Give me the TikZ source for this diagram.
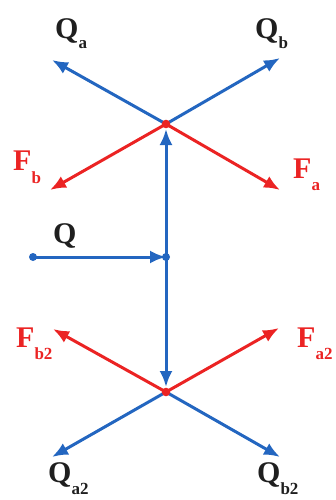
\documentclass[tikz,border=0pt]{standalone}
\usepackage{fontspec}
\setmainfont{Liberation Serif}
\usetikzlibrary{arrows.meta}
\definecolor{vblue}{RGB}{35,102,192}
\definecolor{vred}{RGB}{235,35,35}
\newcommand{\lsub}[2][12pt]{\raisebox{-#1}{\fontsize{17}{17}\selectfont #2}}
\begin{document}
\begin{tikzpicture}[x=1pt,y=-1pt,
  vec/.style={line width=3pt,-{Latex[length=16pt,width=13pt]}},
  bvec/.style={vec,vblue},
  rvec/.style={vec,vred},
  lab/.style={font=\bfseries\fontsize{30}{30}\selectfont,inner sep=0pt,anchor=base west},
  blab/.style={lab,text=black!88},
  rlab/.style={lab,text=vred}]
\useasboundingbox (0,0) rectangle (335,500);
\coordinate (T) at (166,124);
\coordinate (B) at (166,392);
\coordinate (M) at (166,257);
\coordinate (S) at (33,257);
\coordinate (qa) at (52,60);
\coordinate (qb) at (280,58);
\coordinate (fb) at (50,190);
\coordinate (fa) at (280,190);
\coordinate (fb2) at (53,329);
\coordinate (fa2) at (279,328);
\coordinate (qa2) at (52,457);
\coordinate (qb2) at (280,457);
\coordinate (Tv) at (166,129);
\coordinate (Bv) at (166,387);
% vertical link
\draw[bvec] (M) -- (Tv);
\draw[bvec] (M) -- (Bv);
\draw[bvec] (S) -- (M);
\draw[bvec] (T) -- (qa);
\draw[bvec] (T) -- (qb);
\draw[rvec] (T) -- (fb);
\draw[rvec] (T) -- (fa);
\draw[rvec] (B) -- (fb2);
\draw[rvec] (B) -- (fa2);
\draw[bvec] (B) -- (qa2);
\draw[bvec] (B) -- (qb2);
\fill[vblue] (S) circle (4pt);
\fill[vblue] (M) circle (4pt);
\fill[vred] (T) circle (4.3pt);
\fill[vred] (B) circle (4.3pt);
% labels
\node[blab] (Lqa) at (55,39) {Q\lsub[10pt]{a}};
\node[blab] (Lqb) at (255,39) {Q\lsub[10pt]{b}};
\node[rlab] (Lfb) at (13,170) {F\lsub[13pt]{b}};
\node[rlab] (Lfa) at (293,178) {F\lsub{a}};
\node[blab] (Lq) at (53,243) {Q};
\node[rlab] (Lfb2) at (16,347) {F\lsub{b2}};
\node[rlab] (Lfa2) at (297,347) {F\lsub{a2}};
\node[blab] (Lqa2) at (48,482) {Q\lsub{a2}};
\node[blab] (Lqb2) at (257,482) {Q\lsub{b2}};
\end{tikzpicture}
\end{document}
